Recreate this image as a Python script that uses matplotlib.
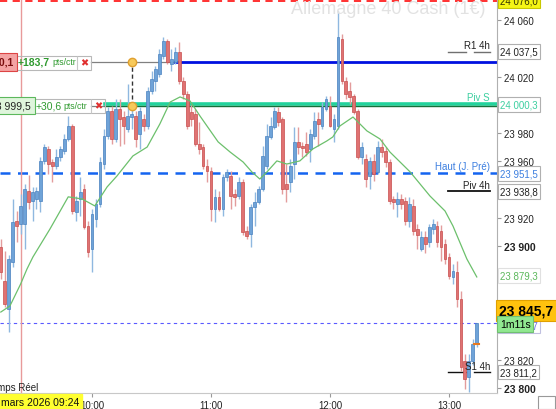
import matplotlib
matplotlib.use("Agg")
import matplotlib.pyplot as plt
import matplotlib.transforms as mtransforms
from matplotlib.patches import Rectangle

plt.rcParams['font.family'] = ['Liberation Sans', 'DejaVu Sans']

# DAX 40 cash, 2-minute candles from 09:14 (time = minutes after 09:00)
first_minute = 14
opens = [23899.5, 23875.5, 23855.7, 23888.9, 23917.9, 23915.8, 23915.8, 23939.1, 23932.0, 23933.4,
         23932.0, 23960.3, 23968.8, 23959.6, 23956.8, 23963.1, 23967.4, 23975.9, 23985.1, 23924.3,
         23933.4, 23940.5, 23914.4, 23898.1, 23919.3, 23929.9, 23958.2, 23978.0, 23995.7, 23975.9,
         23997.1, 23991.4, 23982.9, 23991.4, 23992.1, 23979.4, 23990.0, 23985.1, 24009.8, 24016.9,
         24021.8, 24034.5, 24045.1, 24028.9, 24030.3, 24037.3, 24016.9, 24007.7, 23995.0, 23993.5,
         23972.3, 23970.2, 23956.8, 23953.3, 23926.4, 23934.9, 23926.4, 23949.0, 23949.7, 23937.0,
         23935.6, 23945.5, 23910.8, 23908.7, 23927.8, 23931.3, 23940.5, 23956.8, 23977.3, 23984.3,
         23995.0, 23990.0, 23944.1, 23945.5, 23958.2, 23973.7, 23970.9, 23972.3, 23968.8, 23978.0,
         23990.0, 23985.1, 23997.1, 23999.2, 23982.9, 23985.1, 24046.5, 24016.9, 24009.8, 24006.3,
         23995.7, 23963.1, 23961.7, 23949.7, 23960.3, 23952.6, 23970.2, 23967.4, 23959.6, 23933.4,
         23929.9, 23933.4, 23932.0, 23917.9, 23928.5, 23912.3, 23898.1, 23906.6, 23903.1, 23912.3,
         23914.4, 23910.8, 23901.7, 23892.5, 23878.4, 23881.9, 23862.8, 23819.0, 23807.7, 23819.0,
         23831.0]
highs = [23905.0, 23896.7, 23894.0, 23933.4, 23925.0, 23937.0, 23944.1, 23950.4, 23941.9, 23941.9,
         23963.1, 23972.3, 23970.9, 23961.7, 23968.8, 23970.9, 23979.4, 23992.1, 23986.5, 23935.6,
         23949.0, 23944.1, 23917.9, 23926.4, 23933.4, 23963.1, 23982.9, 23998.5, 23999.2, 24004.1,
         24004.1, 23995.7, 24014.8, 23997.1, 23995.7, 23998.5, 23993.5, 24012.6, 24023.9, 24027.5,
         24039.5, 24048.0, 24046.5, 24039.5, 24040.9, 24044.4, 24019.7, 24009.8, 23999.9, 23997.1,
         23987.9, 23972.3, 23961.7, 23956.1, 23940.5, 23939.1, 23951.1, 23954.7, 23953.3, 23940.5,
         23949.0, 23947.6, 23914.4, 23929.9, 23938.4, 23942.6, 23970.9, 23986.5, 23991.4, 23998.5,
         23998.5, 23991.4, 23958.2, 23961.7, 23984.3, 23984.3, 23973.7, 23980.8, 23982.9, 23995.0,
         23995.0, 24002.0, 24006.3, 24006.3, 23993.5, 24066.3, 24050.1, 24019.7, 24016.2, 24007.7,
         23997.1, 23973.7, 23965.3, 23963.1, 23965.3, 23974.5, 23975.9, 23970.2, 23961.7, 23935.6,
         23938.4, 23937.0, 23934.9, 23934.9, 23933.4, 23915.8, 23910.8, 23910.8, 23915.8, 23919.3,
         23917.9, 23915.1, 23905.2, 23895.3, 23887.5, 23889.6, 23868.4, 23823.9, 23823.9, 23834.6,
         23845.7]
lows = [23877.0, 23857.2, 23839.5, 23885.4, 23903.1, 23908.7, 23898.1, 23926.4, 23917.9, 23926.4,
        23924.3, 23958.2, 23951.1, 23945.5, 23954.7, 23960.3, 23965.3, 23974.5, 23922.9, 23917.9,
        23921.4, 23912.3, 23892.5, 23881.9, 23913.7, 23927.8, 23954.7, 23975.9, 23972.3, 23973.7,
        23970.9, 23972.3, 23980.8, 23982.9, 23970.2, 23968.8, 23981.5, 23982.9, 24007.7, 24009.8,
        24019.7, 24032.4, 24028.9, 24023.9, 24028.9, 24014.8, 24004.1, 23982.9, 23985.1, 23970.9,
        23965.3, 23954.7, 23945.5, 23917.9, 23917.2, 23925.0, 23921.4, 23946.2, 23926.4, 23928.5,
        23933.4, 23908.0, 23905.2, 23899.5, 23914.4, 23929.9, 23939.1, 23954.7, 23975.9, 23982.9,
        23985.1, 23937.0, 23931.3, 23938.4, 23947.6, 23965.3, 23963.1, 23963.9, 23959.6, 23975.9,
        23970.9, 23982.9, 23995.7, 23984.3, 23973.7, 23982.9, 24014.8, 24004.1, 24000.6, 23993.5,
        23961.7, 23958.2, 23941.9, 23940.5, 23946.2, 23951.1, 23963.1, 23956.1, 23929.9, 23926.4,
        23920.7, 23926.4, 23915.1, 23913.7, 23908.0, 23898.1, 23896.7, 23895.3, 23899.5, 23908.7,
        23899.5, 23889.6, 23887.5, 23877.0, 23873.4, 23857.2, 23812.0, 23799.2, 23797.1, 23816.2,
        23828.9]
closes = [23882.0, 23859.3, 23891.1, 23917.2, 23914.4, 23928.5, 23940.5, 23931.3, 23938.4, 23939.1,
          23960.3, 23970.2, 23958.2, 23956.8, 23963.1, 23968.8, 23975.9, 23985.1, 23925.0, 23932.0,
          23938.4, 23913.7, 23896.0, 23922.9, 23929.9, 23959.6, 23978.0, 23995.7, 23975.9, 23997.1,
          23990.0, 23985.1, 23992.1, 23993.5, 23975.9, 23995.7, 23985.1, 24009.8, 24018.3, 24025.4,
          24035.9, 24045.1, 24030.3, 24032.4, 24037.3, 24016.9, 24007.7, 23985.1, 23990.0, 23972.3,
          23968.8, 23956.8, 23953.3, 23926.4, 23934.9, 23926.4, 23949.0, 23952.6, 23935.6, 23934.9,
          23945.5, 23910.1, 23907.3, 23927.8, 23931.3, 23940.5, 23963.9, 23978.0, 23985.1, 23995.7,
          23987.9, 23940.5, 23940.5, 23956.8, 23973.7, 23970.2, 23969.5, 23966.7, 23979.4, 23988.6,
          23986.5, 23998.5, 24004.1, 23985.1, 23990.0, 24048.0, 24016.9, 24007.7, 24005.5, 23995.0,
          23963.1, 23970.2, 23947.6, 23960.3, 23951.1, 23970.2, 23966.7, 23959.6, 23932.0, 23931.3,
          23933.4, 23929.9, 23917.9, 23929.9, 23910.8, 23908.0, 23906.6, 23901.7, 23913.7, 23915.8,
          23903.1, 23899.5, 23891.1, 23879.1, 23882.6, 23862.8, 23814.7, 23806.3, 23819.0, 23831.0,
          23845.7]

# moving average read at a few points (minute, value)
ma_minutes = [14, 18.6, 24, 27.2, 30.2, 38.8, 48, 55, 61.4, 67.6, 72.6, 80.6, 87.8, 94.2, 99.4, 104.4,
              109.4, 114.4, 123.6, 129.6, 136.2, 140.6, 144.6, 148.2, 153.2, 158.2, 164.8, 171.4,
              178.4, 181.4, 185, 191.6, 198.6, 205.2, 210.2, 220.4, 230.4, 238, 242, 249, 254]
ma_values = [23853.6, 23857.9, 23873.4, 23884.0, 23892.5, 23912.3, 23935.0, 23933.5, 23928.6, 23942.0,
             23949.8, 23963.9, 23970.2, 23986.5, 24002.0, 24005.6, 24002.8, 23992.2, 23973.8, 23966.7,
             23959.6, 23952.6, 23947.6, 23952.6, 23960.4, 23958.2, 23960.4, 23968.9, 23974.5, 23977.3,
             23985.1, 23991.4, 23981.6, 23975.9, 23966.7, 23952.6, 23935.6, 23925.0, 23914.4, 23891.1,
             23878.4]

time_ticks = [60, 120, 180, 240]
time_labels = ['10:00', '11:00', '12:00', '13:00']
price_ticks = [24060, 24020, 23980, 23960, 23920, 23900, 23820, 23800]

last_price = 23845.7
ma_last = 23879.3
prev_high = 23951.5
piv_s = 24000.3
order_1 = 24030.1
order_2 = 23999.5
r1_4h = 24037.5
piv_4h = 23938.8
s1_4h = 23811.2
alert_top = 24076.0

fig = plt.figure(figsize=(5.56, 4.10), dpi=100)
ax = fig.add_axes([0, 16 / 410, 497 / 556, 394 / 410])
ax.set_xlim(13.6, 264.2)
ax.set_ylim(23796.4, 24074.8)

for s in ['top', 'left']:
    ax.spines[s].set_visible(False)
ax.spines['right'].set_color('#b0b0b0')
ax.spines['bottom'].set_color('#c8c8c8')

# pixel helpers (x in image pixels, y in image pixels or data)
pix = mtransforms.Affine2D().scale(1 / 556, -1 / 410).translate(0, 1) + fig.transFigure
pix_data = mtransforms.blended_transform_factory(pix, ax.transData)

fig.text(388, 9, 'Allemagne 40 Cash (1€)', transform=pix, fontsize=13, color='#e2e2e2',
         ha='center', va='center')

# levels
ax.axhline(alert_top - 2.5, color='#ff2020', lw=1.3, dashes=(4, 3))
ax.axhline(order_1 + 0.2, xmin=91 / 497, xmax=175 / 497, color='#808080', lw=0.9)
ax.axhline(order_1 + 0.2, xmin=175 / 497, xmax=1, color='#0010e0', lw=2)
ax.axhline(order_2, xmin=91 / 497, xmax=105 / 497, color='#808080', lw=0.9)
ax.axhline(piv_s, xmin=105 / 497, xmax=1, color='#22d39c', lw=2.6)
ax.axhline(order_2, xmin=105 / 497, xmax=1, color='#17703a', lw=1.0)
ax.axhline(prev_high, color='#1464f0', lw=1.8, dashes=(4, 3))
ax.axhline(last_price, color='#5a5aff', lw=0.8, dashes=(3, 3))
ax.axhline(r1_4h, xmin=448 / 497, xmax=466 / 497, color='#707070', lw=1)
ax.axhline(r1_4h, xmin=474 / 497, xmax=490 / 497, color='#707070', lw=1)
ax.axhline(piv_4h, xmin=448 / 497, xmax=490 / 497, color='#111111', lw=1.3)
ax.axhline(s1_4h, xmin=448 / 497, xmax=466 / 497, color='#111111', lw=1)
ax.axhline(s1_4h, xmin=474 / 497, xmax=490 / 497, color='#111111', lw=1)
ax.axvline(24, color='#e89a9a', lw=1)

# candles
for i in range(len(opens)):
    t = first_minute + 2 * i
    o, h, l, c = opens[i], highs[i], lows[i], closes[i]
    up = c >= o
    body = '#6fa3d8' if up else '#e07272'
    edge = '#4a82c0' if up else '#c84e4e'
    wick = '#8fb8e0' if up else '#e39c9c'
    ax.vlines(t, l, h, color=wick, lw=1, zorder=3)
    lo = min(o, c)
    ht = max(abs(c - o), 0.8)
    ax.add_patch(Rectangle((t - 0.7, lo), 1.4, ht, facecolor=body, edgecolor=edge, lw=0.5, zorder=4))

ax.plot(ma_minutes, ma_values, color='#6cc06c', lw=0.9, zorder=5)
ax.plot([252.8, 255.3], [last_price - 14.5] * 2, color='#e87a20', lw=1.5, zorder=5)

# order drawing: markers and link
ax.plot([80.2, 80.2], [order_2, order_1 + 0.2], color='#333333', lw=1, dashes=(3, 2), zorder=6)
ax.plot([80.2, 80.2], [order_2, order_1 + 0.2], 'o', ms=6, mfc='#f7c95a', mec='#e0a030', zorder=7)

# left order tags
for yv, ptxt, pts, fc, ec, col, w_end, bold in [
        (order_1 + 0.2, '24 030,1', '+183,7', '#f4a3a3', '#dd4444', '#7a0d0d', 15, True),
        (order_2, '23 999,5', '+30,6', '#dff5dc', '#5cb85c', '#222222', 33, False)]:
    fig.text(w_end - 2, yv, ptxt, transform=pix_data, fontsize=7.5, color=col,
             fontweight='bold' if bold else 'normal', ha='right', va='center',
             bbox=dict(boxstyle='square,pad=0.35', fc=fc, ec=ec, lw=0.8))
    fig.text(w_end + 3, yv, pts, transform=pix_data, fontsize=7.5, color='#2f9a2f',
             fontweight='bold' if bold else 'normal', ha='left', va='center')
    fig.text(w_end + 3 + (34 if bold else 27), yv, 'pts/ctr', transform=pix_data, fontsize=6.3,
             color='#2f9a2f', ha='left', va='center')
    box_end = 91 if bold else 105
    fig.text(box_end - 7, yv, '✖', transform=pix_data, fontsize=7, color='#e03030',
             ha='center', va='center', family=['DejaVu Sans'])

# outline boxes around the tags (pixel coords)
for x0, x1, yc in [(15, 91, 64), (33, 105, 107)]:
    fig.patches.append(Rectangle((x0, yc - 7), x1 - x0, 14, transform=pix, fill=False,
                                 ec='#b8b8b8', lw=0.8))
    fig.patches.append(Rectangle((x1 - 14, yc - 7), 0, 14, transform=pix, fill=False,
                                 ec='#c8c8c8', lw=0.8))

# level captions
fig.text(490, r1_4h + 4.5, 'R1 4h', transform=pix_data, fontsize=7, color='#222', ha='right', va='center')
fig.text(490, piv_s + 5.5, 'Piv S', transform=pix_data, fontsize=7, color='#3ccfa0', ha='right', va='center')
fig.text(490, prev_high + 5, 'Haut (J. Pré)', transform=pix_data, fontsize=7, color='#3c7fe0', ha='right', va='center')
fig.text(490, piv_4h + 4.5, 'Piv 4h', transform=pix_data, fontsize=7, color='#222', ha='right', va='center')
fig.text(490, s1_4h + 4, 'S1 4h', transform=pix_data, fontsize=7, color='#222', ha='right', va='center')

# right axis
ax.yaxis.tick_right()
ax.set_yticks(price_ticks)
ax.set_yticklabels([f'{p:,}'.replace(',', ' ') for p in price_ticks])
ax.tick_params(axis='y', length=3, color='#999999', labelsize=7, labelcolor='#222222', pad=2)
for lab in ax.get_yticklabels():
    if lab.get_text() in ('23 900', '23 800'):
        lab.set_fontweight('bold')
        lab.set_fontsize(7.5)

ax.set_xticks([24] + time_ticks)
ax.set_xticklabels([''] + time_labels)
ax.tick_params(axis='x', length=3, color='#999999', labelsize=7, labelcolor='#222222', pad=2)

def value_box(y, txt, col, fc='white', ec='#b0b0b0', size=7, weight='normal', x=500):
    fig.text(x, y, txt, transform=pix_data, fontsize=size, color=col, fontweight=weight,
             ha='left', va='center', bbox=dict(boxstyle='square,pad=0.25', fc=fc, ec=ec, lw=0.8))

value_box(alert_top - 2.5, '24 076,0', '#333300', fc='#f5f515', ec='#c8c800')
value_box(r1_4h, '24 037,5', '#222222')
value_box(piv_s, '24 000,3', '#3ccfa0')
value_box(prev_high, '23 951,5', '#3c7fe0')
value_box(piv_4h, '23 938,8', '#222222')
value_box(ma_last, '23 879,3', '#5cb85c', ec='#e0e0e0')
value_box(s1_4h, '23 811,2', '#222222')
value_box(last_price - 1.5, '23 846,7', '#6a6ae8', ec='#c0c0e0')
value_box(last_price + 9, '23 845,7', '#000000', fc='#ffc20e', ec='#e0a000', size=10, weight='bold', x=499)
value_box(last_price - 0.5, '1m11s', '#000000', fc='#90e890', ec='#70c070', size=7.5, x=500)

# bottom-left captions
fig.text(38, 388, 'Temps Réel', transform=pix, fontsize=7, color='#222', ha='right', va='center')
fig.text(1, 403, 'mars 2026 09:24', transform=pix, fontsize=7.5, color='#111', ha='left', va='center',
         bbox=dict(boxstyle='square,pad=0.3', fc='#ffff30', ec='#ffff30'))
fig.patches.append(Rectangle((538, 397), 17, 13, transform=pix, fill=False, ec='#999', lw=0.8))

fig.savefig('out.png', dpi=100)
